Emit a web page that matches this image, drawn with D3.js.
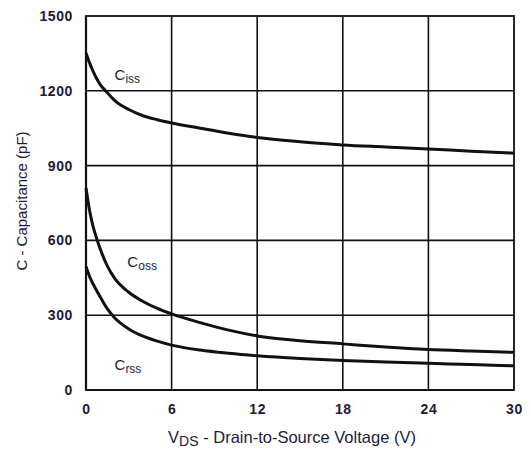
<!DOCTYPE html>
<html><head><meta charset="utf-8">
<script src="https://cdn.jsdelivr.net/npm/d3@7"></script>
<style>
html,body{margin:0;padding:0;background:#fff;}
svg{display:block;font-family:"Liberation Sans",Arial,sans-serif;}
</style></head>
<body><svg id="c" width="531" height="450"></svg>
<script>
const vds  = [0, 0.25, 0.5, 0.8, 1, 1.5, 2, 3, 4, 5, 6, 8, 10, 12, 15, 18, 21, 24, 27, 30];
const ciss = [1352, 1312, 1278, 1243, 1225, 1192, 1162, 1125, 1100, 1084, 1071, 1050, 1030, 1013, 996, 983, 975, 967, 958, 950];
const coss = [810, 720, 655, 598, 565, 497, 449, 392, 355, 327, 305, 270, 240, 217, 198, 185, 172, 162, 156, 151];
const crss = [495, 455, 425, 393, 373, 325, 290, 245, 216, 196, 180, 160, 147, 137, 126, 118, 112, 107, 102, 97];
const xTicks = [0, 6, 12, 18, 24, 30];
const yTicks = [0, 300, 600, 900, 1200, 1500];
const seriesNames = [["C","iss"],["C","oss"],["C","rss"]];
const seriesLabelAt = [[2.0, 1245], [2.9, 493], [2.0, 80]];

const L = 86, T = 16, W = 428, H = 374;
const svg = d3.select("#c");
const x = d3.scaleLinear().domain([0, 30]).range([L, L + W]);
const y = d3.scaleLinear().domain([0, 1500]).range([T + H, T]);
const ink = "#111";
const textCol = "#1b1b3a";

// grid
const g = svg.append("g");
g.selectAll("line.v").data(xTicks.slice(1, -1)).join("line")
  .attr("x1", d => x(d)).attr("x2", d => x(d)).attr("y1", T).attr("y2", T + H)
  .attr("stroke", ink).attr("stroke-width", 1.6);
g.selectAll("line.h").data(yTicks.slice(1, -1)).join("line")
  .attr("x1", L).attr("x2", L + W).attr("y1", d => y(d)).attr("y2", d => y(d))
  .attr("stroke", ink).attr("stroke-width", 1.6);
// frame
svg.append("rect").attr("x", L).attr("y", T).attr("width", W).attr("height", H)
  .attr("fill", "none").attr("stroke", ink).attr("stroke-width", 1.8);
svg.append("line").attr("x1", L).attr("x2", L).attr("y1", T).attr("y2", T + H).attr("stroke", ink).attr("stroke-width", 2.2);
svg.append("line").attr("x1", L).attr("x2", L + W).attr("y1", T + H).attr("y2", T + H).attr("stroke", ink).attr("stroke-width", 2.2);

// axes tick labels
const xAxis = d3.axisBottom(x).tickValues(xTicks).tickFormat(d3.format("d")).tickSize(0).tickPadding(14);
const xa = svg.append("g").attr("transform", `translate(0,${T + H})`).call(xAxis);
xa.select(".domain").remove();
xa.selectAll("text").attr("font-size", 14).attr("font-weight", "bold").attr("fill", textCol)
  .attr("font-family", "Liberation Sans, Arial, sans-serif").attr("letter-spacing", 0.6);
const yAxis = d3.axisLeft(y).tickValues(yTicks).tickFormat(d3.format("d")).tickSize(0).tickPadding(13);
const ya = svg.append("g").attr("transform", `translate(${L},0)`).call(yAxis);
ya.select(".domain").remove();
ya.selectAll("text").attr("font-size", 14).attr("font-weight", "bold").attr("fill", textCol)
  .attr("font-family", "Liberation Sans, Arial, sans-serif").attr("letter-spacing", 0.6);

// curves
const line = d3.line().x((d, i) => x(vds[i])).y(d => y(d)).curve(d3.curveMonotoneX);
[ciss, coss, crss].forEach(s => {
  svg.append("path").attr("d", line(s)).attr("fill", "none")
    .attr("stroke", ink).attr("stroke-width", 3).attr("stroke-linejoin", "round");
});

// series labels
seriesNames.forEach((n, i) => {
  const t = svg.append("text").attr("x", x(seriesLabelAt[i][0])).attr("y", y(seriesLabelAt[i][1]))
    .attr("font-size", 15).attr("fill", textCol);
  t.append("tspan").text(n[0]);
  t.append("tspan").attr("font-size", 12).attr("dy", 3).text(n[1]);
});

// axis titles
const xt = svg.append("text").attr("x", 292).attr("y", 443).attr("text-anchor", "middle")
  .attr("font-size", 16.5).attr("fill", textCol);
xt.append("tspan").text("V");
xt.append("tspan").attr("font-size", 14).attr("dy", 3).text("DS");
xt.append("tspan").attr("dy", -3).text(" - Drain-to-Source Voltage (V)");

svg.append("text").attr("transform", "translate(27,201) rotate(-90)").attr("text-anchor", "middle")
  .attr("font-size", 15).attr("fill", textCol).text("C - Capacitance (pF)");
</script>
</body></html>
